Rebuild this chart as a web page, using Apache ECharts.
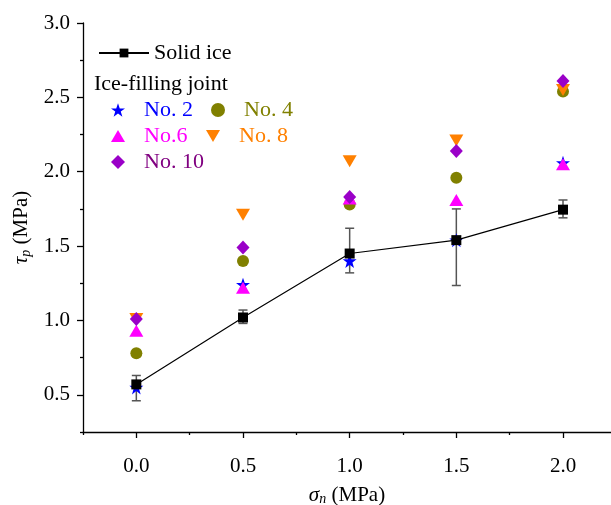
<!DOCTYPE html>
<html>
<head>
<meta charset="utf-8">
<script src="https://cdn.jsdelivr.net/npm/echarts@6/dist/echarts.min.js"></script>
<style>html,body{margin:0;padding:0;background:#fff}#c{width:611px;height:505px}</style>
</head>
<body>
<div id="c"></div>
<script>
const sigmaN = [0, 0.5, 1.0, 1.5, 2.0];
const solidIce = [0.57, 1.02, 1.45, 1.54, 1.745];
const solidErrLow = [0.46, 0.98, 1.32, 1.235, 1.69];
const solidErrHigh = [0.63, 1.07, 1.62, 1.75, 1.81];
const no2 = [0.55, 1.24, 1.40, 1.54, 2.06];
const no4 = [0.78, 1.40, 1.78, 1.96, 2.54];
const no6 = [0.93, 1.22, 1.82, 1.81, 2.05];
const no8 = [1.01, 1.71, 2.07, 2.21, 2.55];
const no10 = [1.01, 1.49, 1.83, 2.14, 2.61];
const xMajorTicks = [0, 0.5, 1.0, 1.5, 2.0];
const xMinorTicks = [-0.25, 0.25, 0.75, 1.25, 1.75];
const yMajorTicks = [0.5, 1.0, 1.5, 2.0, 2.5, 3.0];
const yMinorTicks = [0.25, 0.75, 1.25, 1.75, 2.25, 2.75];

const FONT = '"Liberation Serif", "Times New Roman", serif';
const STAR = 'path://M12,0 L14.9,8.3 L23.4,8.3 L16.5,13.4 L19.1,21.8 L12,16.7 L4.9,21.8 L7.5,13.4 L0.6,8.3 L9.1,8.3 Z';
const TRI_DOWN = 'path://M0,0 L20,0 L10,17 Z';
const TRI_UP = 'path://M10,0 L20,17 L0,17 Z';

const pairs = arr => sigmaN.map((x, i) => [x, arr[i]]);

const chart = echarts.init(document.getElementById('c'), null, {renderer: 'canvas'});

const xBase = {type: 'value', min: -0.25, max: 2.225, splitLine: {show: false}};
const yBase = {type: 'value', min: 0.25, max: 3.0, splitLine: {show: false}};

function legendItem(name, icon, color, textColor, left, top) {
  return {
    left: left, top: top, padding: 0, itemGap: 0,
    itemWidth: 14, itemHeight: 14,
    data: [{name: name, icon: icon, itemStyle: {color: color, opacity: 1}, textStyle: {color: textColor}}],
    textStyle: {fontFamily: FONT, fontSize: 22, color: textColor, padding: [0, 0, 0, 14]},
    selectedMode: false
  };
}

const scatterCommon = {type: 'scatter', xAxisIndex: 0, yAxisIndex: 0};

chart.setOption({
  animation: false,
  backgroundColor: '#fff',
  grid: {left: 83, right: 0, top: 23, bottom: 73, containLabel: false, outerBoundsMode: 'none'},
  title: {
    text: 'Ice-filling joint', left: 94, top: 73, padding: 0,
    textStyle: {fontFamily: FONT, fontSize: 22, fontWeight: 'normal', color: '#000'}
  },
  legend: [
    {
      left: 98, top: 42, padding: 0, itemWidth: 50, itemHeight: 11,
      data: ['Solid ice'], selectedMode: false,
      textStyle: {fontFamily: FONT, fontSize: 22, color: '#000'}
    },
    legendItem('No. 2', STAR, '#0000ff', '#0000ff', 111, 99),
    legendItem('No. 4', 'circle', '#808000', '#808000', 211, 99),
    legendItem('No.6', TRI_UP, '#ff00ff', '#ff00ff', 111, 125),
    legendItem('No. 8', TRI_DOWN, '#ff8000', '#ff8000', 206, 125),
    legendItem('No. 10', 'diamond', '#9a00c8', '#800080', 111, 151)
  ],
  xAxis: [
    Object.assign({}, xBase, {
      position: 'bottom',
      name: '{i|σ}{s|n} (MPa)', nameLocation: 'middle', nameGap: 52,
      nameTextStyle: {
        fontFamily: FONT, fontSize: 21, color: '#000',
        rich: {
          i: {fontFamily: FONT, fontSize: 21, fontStyle: 'italic', color: '#000'},
          s: {fontFamily: FONT, fontSize: 14, fontStyle: 'italic', color: '#000', verticalAlign: 'bottom', padding: [8, 0, 0, 0]}
        }
      },
      axisLine: {show: true, onZero: false, lineStyle: {color: '#000', width: 1.3}},
      axisTick: {show: true, length: 6, customValues: xMajorTicks, lineStyle: {color: '#000', width: 1.3}},
      axisLabel: {show: true, customValues: xMajorTicks, margin: 24, fontFamily: FONT, fontSize: 21, color: '#000',
        formatter: v => v.toFixed(1)}
    }),
    Object.assign({}, xBase, {
      position: 'bottom',
      axisLine: {show: false, onZero: false},
      axisTick: {show: true, length: 3, customValues: xMinorTicks, lineStyle: {color: '#000', width: 1.3}},
      axisLabel: {show: false}
    })
  ],
  yAxis: [
    Object.assign({}, yBase, {
      position: 'left',
      name: '{i|τ}{s|p} (MPa)', nameLocation: 'middle', nameGap: 45, nameRotate: 90,
      nameTextStyle: {
        fontFamily: FONT, fontSize: 21, color: '#000',
        rich: {
          i: {fontFamily: FONT, fontSize: 21, fontStyle: 'italic', color: '#000'},
          s: {fontFamily: FONT, fontSize: 14, fontStyle: 'italic', color: '#000', verticalAlign: 'bottom', padding: [8, 0, 0, 0]}
        }
      },
      axisLine: {show: true, onZero: false, lineStyle: {color: '#000', width: 1.3}},
      axisTick: {show: true, length: 6, customValues: yMajorTicks, lineStyle: {color: '#000', width: 1.3}},
      axisLabel: {show: true, customValues: yMajorTicks, margin: 13, fontFamily: FONT, fontSize: 21, color: '#000',
        formatter: v => v.toFixed(1)}
    }),
    Object.assign({}, yBase, {
      position: 'left',
      axisLine: {show: false, onZero: false},
      axisTick: {show: true, length: 3, customValues: yMinorTicks, lineStyle: {color: '#000', width: 1.3}},
      axisLabel: {show: false}
    })
  ],
  series: [
    {
      name: 'errorbars', type: 'custom', xAxisIndex: 0, yAxisIndex: 0,
      data: sigmaN.map((x, i) => [x, solidErrLow[i], solidErrHigh[i]]),
      encode: {x: 0, y: [1, 2]},
      renderItem: function (params, api) {
        const x = api.value(0);
        const top = api.coord([x, api.value(2)]);
        const bot = api.coord([x, api.value(1)]);
        const hw = 4.5;
        const st = {stroke: '#555', lineWidth: 1.5};
        return {
          type: 'group',
          children: [
            {type: 'line', shape: {x1: top[0], y1: top[1], x2: bot[0], y2: bot[1]}, style: st},
            {type: 'line', shape: {x1: top[0] - hw, y1: top[1], x2: top[0] + hw, y2: top[1]}, style: st},
            {type: 'line', shape: {x1: bot[0] - hw, y1: bot[1], x2: bot[0] + hw, y2: bot[1]}, style: st}
          ]
        };
      }
    },
    {
      name: 'Solid ice', type: 'line', xAxisIndex: 0, yAxisIndex: 0,
      data: pairs(solidIce),
      symbol: 'rect', symbolSize: 10,
      lineStyle: {color: '#000', width: 1.2},
      itemStyle: {color: '#000'}
    },
    Object.assign({}, scatterCommon, {name: 'No. 2', data: pairs(no2), symbol: STAR, symbolSize: 14, itemStyle: {color: '#0000ff', opacity: 1}}),
    Object.assign({}, scatterCommon, {name: 'No. 4', data: pairs(no4), symbol: 'circle', symbolSize: 12, itemStyle: {color: '#808000', opacity: 1}}),
    Object.assign({}, scatterCommon, {name: 'No.6', data: pairs(no6), symbol: TRI_UP, symbolSize: [14, 12], itemStyle: {color: '#ff00ff', opacity: 1}}),
    Object.assign({}, scatterCommon, {name: 'No. 8', data: pairs(no8), symbol: TRI_DOWN, symbolSize: [14, 12], itemStyle: {color: '#ff8000', opacity: 1}}),
    Object.assign({}, scatterCommon, {name: 'No. 10', data: pairs(no10), symbol: 'diamond', symbolSize: [13, 14], itemStyle: {color: '#9a00c8', opacity: 1}})
  ]
});
</script>
</body>
</html>
